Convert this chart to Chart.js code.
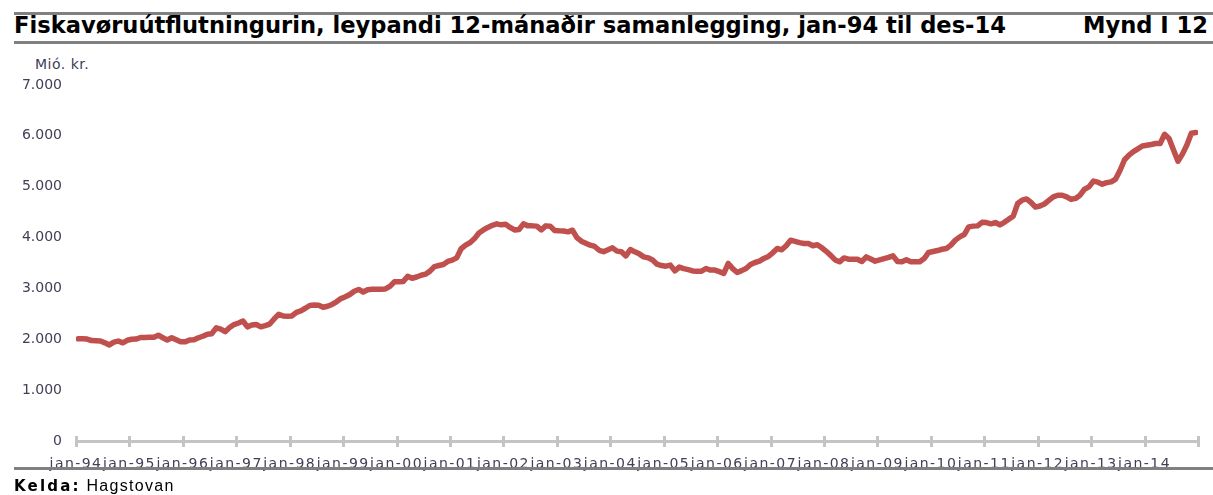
<!DOCTYPE html>
<html>
<head>
<meta charset="utf-8">
<script src="https://cdn.jsdelivr.net/npm/chart.js@4/dist/chart.umd.min.js"></script>
<style>
  html, body { margin: 0; padding: 0; background: #fff; }
  #wrap { position: relative; width: 1213px; height: 495px; overflow: hidden; }
  #c { position: absolute; left: 0; top: 0; }
  .rule { position: absolute; left: 14px; right: 0; height: 3px; background: #808080; }
  #title { position: absolute; left: 14px; top: 12px; font: bold 22.6px "DejaVu Sans", Verdana, sans-serif; color: #000; white-space: nowrap; }
  #mynd { position: absolute; right: 5px; top: 12px; font: bold 22.6px "DejaVu Sans", Verdana, sans-serif; color: #000; }
  #unit { position: absolute; left: 35px; top: 56px; font: 14px "DejaVu Sans", Verdana, sans-serif; letter-spacing: 0.5px; color: #404058; }
  #src { position: absolute; left: 14px; top: 477px; font: 16px "Liberation Sans", Arial, sans-serif; letter-spacing: 1.3px; color: #000; white-space: nowrap; }
  #src b { font: bold 15px "DejaVu Sans", Verdana, sans-serif; letter-spacing: 2.2px; }
</style>
</head>
<body>
<div id="wrap">
  <div class="rule" style="top:12px"></div>
  <div id="title">Fiskavøruútflutningurin, leypandi 12-mánaðir samanlegging, jan-94 til des-14</div>
  <div id="mynd">Mynd I 12</div>
  <div class="rule" style="top:41px"></div>
  <div id="unit">Mió. kr.</div>
  <canvas id="c" width="1213" height="495"></canvas>
  <div class="rule" style="top:467px"></div>
  <div id="src"><b>Kelda:</b> Hagstovan</div>
</div>
<script>
// Monthly 12-month rolling fish exports (Mió. kr.), jan-94 .. des-14
const startYear = 1994;
const endYear = 2015;
const tickLabels = ['jan-94','jan-95','jan-96','jan-97','jan-98','jan-99','jan-00','jan-01','jan-02','jan-03','jan-04','jan-05','jan-06','jan-07','jan-08','jan-09','jan-10','jan-11','jan-12','jan-13','jan-14'];
const yTicks = [0, 1000, 2000, 3000, 4000, 5000, 6000, 7000];
const v1994 = [2010,2010,2005,1975,1970,1965,1930,1890,1945,1965,1930,1980];
const v1995 = [2000,2005,2035,2035,2040,2040,2080,2030,1985,2030,1990,1950];
const v1996 = [1950,1985,1990,2030,2060,2100,2110,2225,2200,2150,2230,2290];
const v1997 = [2320,2360,2245,2280,2290,2245,2270,2300,2400,2490,2460,2455];
const v1998 = [2460,2530,2560,2610,2665,2672,2670,2630,2650,2685,2737,2800];
const v1999 = [2835,2880,2945,2980,2930,2975,2985,2985,2985,2990,3040,3130];
const v2000 = [3130,3135,3240,3200,3225,3260,3280,3340,3430,3450,3470,3530];
const v2001 = [3556,3600,3780,3850,3900,3980,4090,4150,4200,4240,4270,4250];
const v2002 = [4260,4200,4150,4160,4270,4230,4230,4225,4150,4230,4225,4140];
const v2003 = [4132,4130,4113,4145,4000,3930,3890,3850,3825,3750,3722,3760];
const v2004 = [3798,3733,3720,3640,3766,3720,3680,3621,3601,3560,3477,3450];
const v2005 = [3438,3458,3345,3420,3390,3370,3345,3340,3340,3392,3360,3360];
const v2006 = [3330,3294,3491,3390,3314,3350,3392,3470,3510,3536,3590,3630];
const v2007 = [3700,3786,3760,3840,3949,3925,3900,3885,3883,3840,3860,3800];
const v2008 = [3730,3650,3560,3523,3600,3575,3575,3575,3530,3620,3580,3536];
const v2009 = [3560,3585,3610,3640,3530,3523,3565,3525,3523,3525,3588,3707];
const v2010 = [3725,3745,3770,3786,3851,3950,4014,4060,4211,4225,4230,4300];
const v2011 = [4296,4270,4296,4250,4300,4362,4420,4670,4735,4760,4690,4600];
const v2012 = [4620,4660,4730,4800,4833,4833,4800,4750,4770,4833,4950,4997];
const v2013 = [5110,5090,5050,5080,5095,5150,5324,5530,5620,5690,5745,5800];
const v2014 = [5815,5830,5849,5849,6031,5950,5720,5500,5640,5820,6050,6065];

const years = [v1994,v1995,v1996,v1997,v1998,v1999,v2000,v2001,v2002,v2003,v2004,v2005,v2006,v2007,v2008,v2009,v2010,v2011,v2012,v2013,v2014];
const points = [];
years.forEach((arr, yi) => arr.forEach((v, m) => points.push({ x: startYear + yi + (m + 0.5) / 12, y: v })));

const fmt = v => String(v).replace(/\B(?=(\d{3})+(?!\d))/g, '.');
const tickColor = '#404058';

// Linear scale whose tick labels are drawn with a little letter spacing
class SpacedLinearScale extends Chart.LinearScale {
  drawLabels(area) {
    const ctx = this.ctx;
    ctx.save();
    ctx.letterSpacing = '1.45px';
    super.drawLabels(area);
    ctx.restore();
  }
}
SpacedLinearScale.id = 'spacedLinear';
SpacedLinearScale.defaults = Chart.LinearScale.defaults;
Chart.register(SpacedLinearScale);

const crossTicks = {
  id: 'crossTicks',
  afterDraw(chart) {
    const sx = chart.scales.x;
    const ctx = chart.ctx;
    const b = sx.top;
    ctx.save();
    ctx.strokeStyle = '#c4c4c4';
    ctx.lineWidth = 3;
    sx.ticks.forEach(t => {
      const px = Math.round(sx.getPixelForValue(t.value)) + 0.5;
      ctx.beginPath();
      ctx.moveTo(px, b - 5);
      ctx.lineTo(px, b + 6);
      ctx.stroke();
    });
    ctx.restore();
  }
};

new Chart(document.getElementById('c'), {
  type: 'line',
  data: {
    datasets: [{
      data: points,
      borderColor: '#C0504D',
      borderWidth: 5.5,
      pointRadius: 0,
      tension: 0,
      borderJoinStyle: 'round',
      borderCapStyle: 'round'
    }]
  },
  options: {
    responsive: false,
    animation: false,
    events: [],
    layout: { padding: { top: 85, right: 11, left: 0, bottom: 0 } },
    plugins: { legend: { display: false }, tooltip: { enabled: false } },
    scales: {
      x: {
        type: 'spacedLinear',
        min: startYear,
        max: endYear,
        afterFit: s => { s.height = 54; },
        afterBuildTicks: s => { s.ticks = tickLabels.map((l, i) => ({ value: startYear + i })).concat([{ value: endYear }]); },
        grid: { display: true, drawOnChartArea: false, drawTicks: false },
        border: { display: true, color: '#c4c4c4', width: 3 },
        ticks: {
          autoSkip: false,
          maxRotation: 0,
          padding: 15,
          color: tickColor,
          font: { family: '"DejaVu Sans", Verdana, sans-serif', size: 14 },
          callback: v => tickLabels[Math.round(v) - startYear] || ''
        }
      },
      y: {
        min: 0,
        max: 7000,
        afterFit: s => { s.width = 76; },
        afterBuildTicks: s => { s.ticks = yTicks.map(v => ({ value: v })); },
        grid: { display: false, drawTicks: false },
        border: { display: false },
        ticks: {
          padding: 14,
          color: tickColor,
          font: { family: '"DejaVu Sans", Verdana, sans-serif', size: 14 },
          callback: v => fmt(v)
        }
      }
    }
  },
  plugins: [crossTicks]
});
</script>
</body>
</html>
